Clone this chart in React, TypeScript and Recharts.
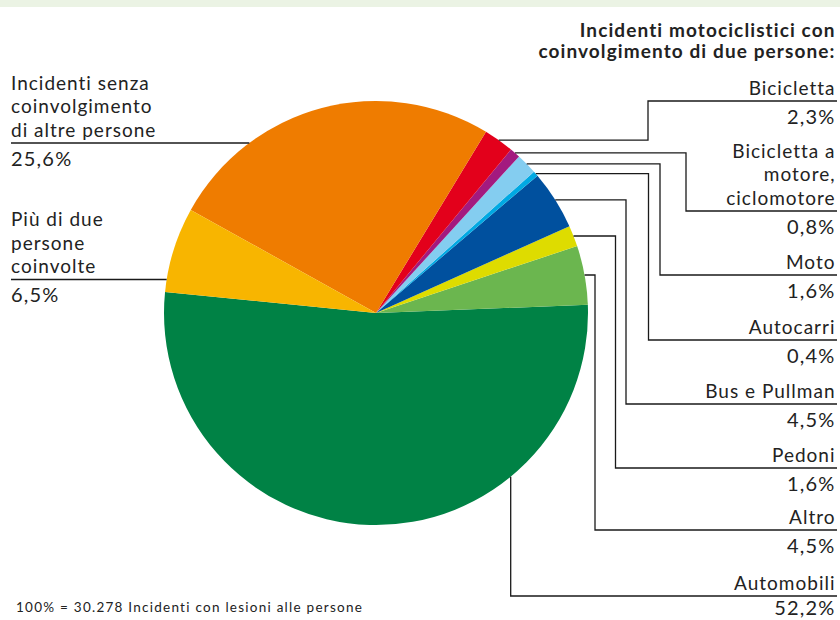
import { PieChart, Pie, Cell } from "recharts";

// Incidenti con lesioni alle persone, per tipo di coinvolgimento (%)
const categories = [
  "Automobili",
  "Altro",
  "Pedoni",
  "Bus e Pullman",
  "Autocarri",
  "Moto",
  "Bicicletta a motore, ciclomotore",
  "Bicicletta",
  "Incidenti senza coinvolgimento di altre persone",
  "Più di due persone coinvolte",
];
const shares = [52.2, 4.5, 1.6, 4.5, 0.4, 1.6, 0.8, 2.3, 25.6, 6.5];
const labelLines = [
  ["Automobili"],
  ["Altro"],
  ["Pedoni"],
  ["Bus e Pullman"],
  ["Autocarri"],
  ["Moto"],
  ["Bicicletta a", "motore,", "ciclomotore"],
  ["Bicicletta"],
  ["Incidenti senza", "coinvolgimento", "di altre persone"],
  ["Più di due", "persone", "coinvolte"],
];
const colors = [
  "#008245",
  "#6bb64f",
  "#dedc00",
  "#00509e",
  "#00a9e3",
  "#84cdf0",
  "#a31a7f",
  "#e3001b",
  "#ef7c00",
  "#f8b500",
];

const data = categories.map((name, i) => ({ name, value: shares[i] }));

// leader line layout (annotation only)
const leaders = [
  { side: "bottom", rowY: 596, elbowX: 510.7 },
  { side: "right", rowY: 530, elbowX: 595 },
  { side: "right", rowY: 468, elbowX: 615.5 },
  { side: "right", rowY: 404, elbowX: 626 },
  { side: "right", rowY: 340, elbowX: 648.5 },
  { side: "right", rowY: 275, elbowX: 660 },
  { side: "right", rowY: 211, elbowX: 686 },
  { side: "right", rowY: 101, elbowX: 648 },
  { side: "left", rowY: 143, elbowX: 0 },
  { side: "left", rowY: 279.5, elbowX: 0 },
];

const CX = 376;
const CY = 313;
const R = 212;
const RIGHT_X = 835.5;
const LEFT_X = 11;
const FONT = "Lato, 'Open Sans', sans-serif";
const TEXT = "#222";
const LINE = "#1a1a1a";

const fmt = (v: number) => v.toFixed(1).replace(".", ",") + "%";

function renderLabel(props: any) {
  const { index, midAngle, cx, cy, outerRadius } = props;
  const lay = leaders[index];
  const lines = labelLines[index];
  const rad = (Math.PI / 180) * midAngle;
  let path = "";
  if (lay.side === "right") {
    const ax = cx + outerRadius * Math.cos(rad);
    const ay = cy - outerRadius * Math.sin(rad);
    path = `M${ax},${ay}H${lay.elbowX}V${lay.rowY}H837`;
  } else if (lay.side === "bottom") {
    const dx = lay.elbowX - cx;
    const ay = cy + Math.sqrt(outerRadius * outerRadius - dx * dx);
    path = `M${lay.elbowX},${ay}V${lay.rowY}H837`;
  } else {
    const dy = lay.rowY - cy;
    const ex = cx - Math.sqrt(outerRadius * outerRadius - dy * dy);
    path = `M${LEFT_X},${lay.rowY}H${ex}`;
  }
  const anchor = lay.side === "left" ? "start" : "end";
  const tx = lay.side === "left" ? LEFT_X : RIGHT_X;
  const n = lines.length;
  return (
    <g key={`lab-${index}`}>
      <path d={path} fill="none" stroke={LINE} strokeWidth={1.3} />
      {lines.map((t, k) => (
        <text
          key={k}
          x={tx}
          y={lay.rowY - 6.5 - (n - 1 - k) * 23.5}
          textAnchor={anchor}
          fontFamily={FONT}
          fontSize={19}
          letterSpacing={1}
          fill={TEXT}
        >
          {t}
        </text>
      ))}
      <text
        x={tx}
        y={Math.min(lay.rowY + 22.5, 614.5)}
        textAnchor={anchor}
        fontFamily={FONT}
        fontSize={20}
        letterSpacing={1.2}
        fill={TEXT}
      >
        {fmt(shares[index])}
      </text>
    </g>
  );
}

export default function App() {
  return (
    <div
      style={{
        position: "absolute",
        left: 0,
        top: 0,
        width: 840,
        height: 620,
        background: "#fff",
        overflow: "hidden",
      }}
    >
      <svg
        width={840}
        height={620}
        style={{ position: "absolute", left: 0, top: 0 }}
      >
        <rect x={0} y={0} width={840} height={7} fill="#ebf3e4" />
        <text
          x={RIGHT_X}
          y={37}
          textAnchor="end"
          fontFamily={FONT}
          fontWeight="bold"
          fontSize={19}
          letterSpacing={1.1}
          fill={TEXT}
        >
          Incidenti motociclistici con
        </text>
        <text
          x={RIGHT_X}
          y={58}
          textAnchor="end"
          fontFamily={FONT}
          fontWeight="bold"
          fontSize={19}
          letterSpacing={1.1}
          fill={TEXT}
        >
          coinvolgimento di due persone:
        </text>
        <text
          x={16}
          y={612}
          fontFamily={FONT}
          fontSize={13.5}
          letterSpacing={1.25}
          fill={TEXT}
        >
          100% = 30.278 Incidenti con lesioni alle persone
        </text>
      </svg>
      <div style={{ position: "absolute", left: 0, top: 0 }}>
        <PieChart width={840} height={620} margin={{ top: 0, right: 0, bottom: 0, left: 0 }}>
          <Pie
            data={data}
            dataKey="value"
            nameKey="name"
            cx={CX}
            cy={CY}
            outerRadius={R}
            startAngle={174.3}
            endAngle={534.3}
            stroke="none"
            label={renderLabel}
            labelLine={false}
            isAnimationActive={false}
          >
            {data.map((_d, i) => (
              <Cell key={`c-${i}`} fill={colors[i]} />
            ))}
          </Pie>
        </PieChart>
      </div>
    </div>
  );
}
